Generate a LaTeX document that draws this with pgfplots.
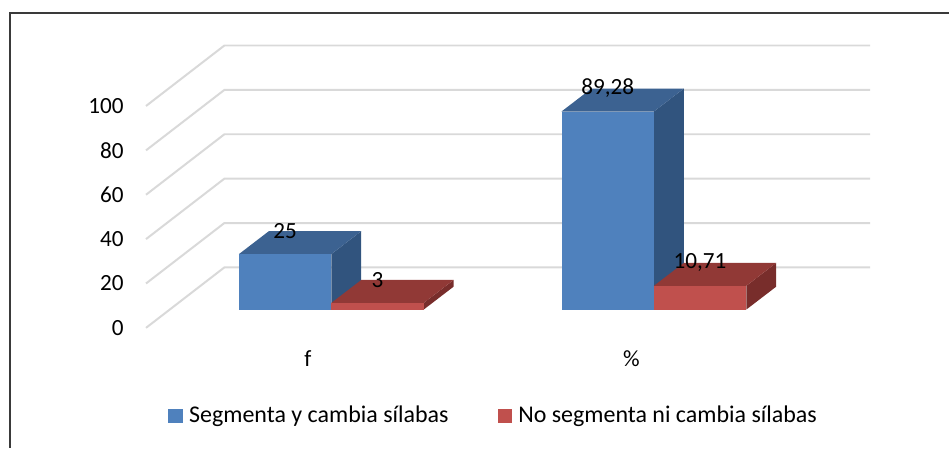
\documentclass[border=0pt]{standalone}
\usepackage{pgfplots}
\pgfplotsset{compat=1.18}
\usepackage{pgfplotstable}
\usepackage{fontspec}
\setmainfont{Carlito}

\definecolor{bluF}{HTML}{4F81BD}
\definecolor{bluT}{HTML}{3C6291}
\definecolor{bluS}{HTML}{31547E}
\definecolor{redF}{HTML}{C0504D}
\definecolor{redT}{HTML}{913936}
\definecolor{redS}{HTML}{782D2B}
\definecolor{gridc}{HTML}{D9D9D9}
\definecolor{framec}{HTML}{3A3A3A}

% bar data: x0 = left edge of the front face (px), v = value
\pgfplotstableread{
x0 v
239 25
562 89.28
}\seg
\pgfplotstableread{
x0 v
331.5 3
654.5 10.71
}\noseg

% face templates: fx = width fraction, fd = depth fraction, fh = height fraction
\pgfplotstableread{
fx fd fh
0 0 0
1 0 0
1 0 1
0 0 1
}\faceF
\pgfplotstableread{
fx fd fh
0 0 1
1 0 1
1 1 1
0 1 1
}\faceT
\pgfplotstableread{
fx fd fh
1 0 0
1 1 0
1 1 1
1 0 1
}\faceS

\newcommand\boxbar[5]{%
  \addplot[forget plot, draw=none, fill=#5] table[x expr={#1+92.5*\thisrow{fx}+30*\thisrow{fd}}, y expr={8.23+#2*\thisrow{fh}+10.35*\thisrow{fd}}] {\faceS};%
  \addplot[forget plot, draw=none, fill=#4] table[x expr={#1+92.5*\thisrow{fx}+30*\thisrow{fd}}, y expr={8.23+#2*\thisrow{fh}+10.35*\thisrow{fd}}] {\faceT};%
  \addplot[forget plot, draw=none, fill=#3] table[x expr={#1+92.5*\thisrow{fx}+30*\thisrow{fd}}, y expr={8.23+#2*\thisrow{fh}+10.35*\thisrow{fd}}] {\faceF};%
}

\begin{document}%
\fontsize{11.6pt}{14pt}\selectfont%
\begin{tikzpicture}
\pgfplotstablegetelem{0}{x0}\of\seg \edef\xA{\pgfplotsretval}
\pgfplotstablegetelem{0}{v}\of\seg \edef\vA{\pgfplotsretval}
\pgfplotstablegetelem{1}{x0}\of\seg \edef\xB{\pgfplotsretval}
\pgfplotstablegetelem{1}{v}\of\seg \edef\vB{\pgfplotsretval}
\pgfplotstablegetelem{0}{x0}\of\noseg \edef\xC{\pgfplotsretval}
\pgfplotstablegetelem{0}{v}\of\noseg \edef\vC{\pgfplotsretval}
\pgfplotstablegetelem{1}{x0}\of\noseg \edef\xD{\pgfplotsretval}
\pgfplotstablegetelem{1}{v}\of\noseg \edef\vD{\pgfplotsretval}
\begin{axis}[
  width=475pt, height=224pt, scale only axis,
  xmin=0, xmax=950, ymin=-53.98, ymax=147.68,
  axis line style={draw=none},
  clip=false,
  major tick length=0pt,
  ytick={0,20,...,100},
  yticklabel style={anchor=east, inner sep=0pt, xshift=62pt},
  xtick={308,632}, xticklabels={f,\%},
  xticklabel style={anchor=base, inner sep=0pt, yshift=40.5pt},
  /pgf/number format/use comma,
  /pgf/number format/assume math mode=true,
  legend columns=2,
  legend cell align=left,
  legend style={at={(axis description cs:0.1768,0.0703)}, anchor=west,
    draw=none, fill=none, inner sep=0pt,
    font=\fontsize{12pt}{14pt}\selectfont,
    nodes={inner sep=0pt},
    /tikz/every odd column/.append style={column sep=3pt},
    /tikz/every even column/.append style={column sep=24.5pt}},
]
\path (rel axis cs:0,0) rectangle (rel axis cs:1,1);
\draw[framec, line width=1pt] (rel axis cs:0.01,0) -- (rel axis cs:0.01,0.972) -- (rel axis cs:1,0.972);

% gridlines (front-left end, back-left corner, back-right end)
\addplot[forget plot, gridc, line width=1pt] coordinates {(146,0) (224.5,27.26) (871,27.26)};
\addplot[forget plot, gridc, line width=1pt] coordinates {(146,20) (224.5,47.26) (871,47.26)};
\addplot[forget plot, gridc, line width=1pt] coordinates {(146,40) (224.5,67.26) (871,67.26)};
\addplot[forget plot, gridc, line width=1pt] coordinates {(146,60) (224.5,87.26) (871,87.26)};
\addplot[forget plot, gridc, line width=1pt] coordinates {(146,80) (224.5,107.26) (871,107.26)};
\addplot[forget plot, gridc, line width=1pt] coordinates {(146,100) (224.5,127.26) (871,127.26)};

\boxbar{\xA}{\vA}{bluF}{bluT}{bluS}
\boxbar{\xC}{\vC}{redF}{redT}{redS}
\boxbar{\xB}{\vB}{bluF}{bluT}{bluS}
\boxbar{\xD}{\vD}{redF}{redT}{redS}

% data labels
\addplot[forget plot, draw=none, mark=none, nodes near coords, point meta=explicit,
  every node near coord/.append style={anchor=center, inner sep=0pt}]
  table[x expr=\thisrow{x0}+46.25, y expr=\thisrow{v}+18.58, meta=v] {\seg};
\addplot[forget plot, draw=none, mark=none, nodes near coords, point meta=explicit,
  every node near coord/.append style={anchor=center, inner sep=0pt}]
  table[x expr=\thisrow{x0}+46.25, y expr=\thisrow{v}+18.58, meta=v] {\noseg};

\addlegendimage{legend image code/.code={\fill[bluF] (0pt,-3.3pt) rectangle (7pt,3.3pt);}}
\addlegendentry{Segmenta y cambia sílabas}
\addlegendimage{legend image code/.code={\fill[redF] (0pt,-3.3pt) rectangle (7pt,3.3pt);}}
\addlegendentry{No segmenta ni cambia sílabas}
\end{axis}
\end{tikzpicture}%
\end{document}
